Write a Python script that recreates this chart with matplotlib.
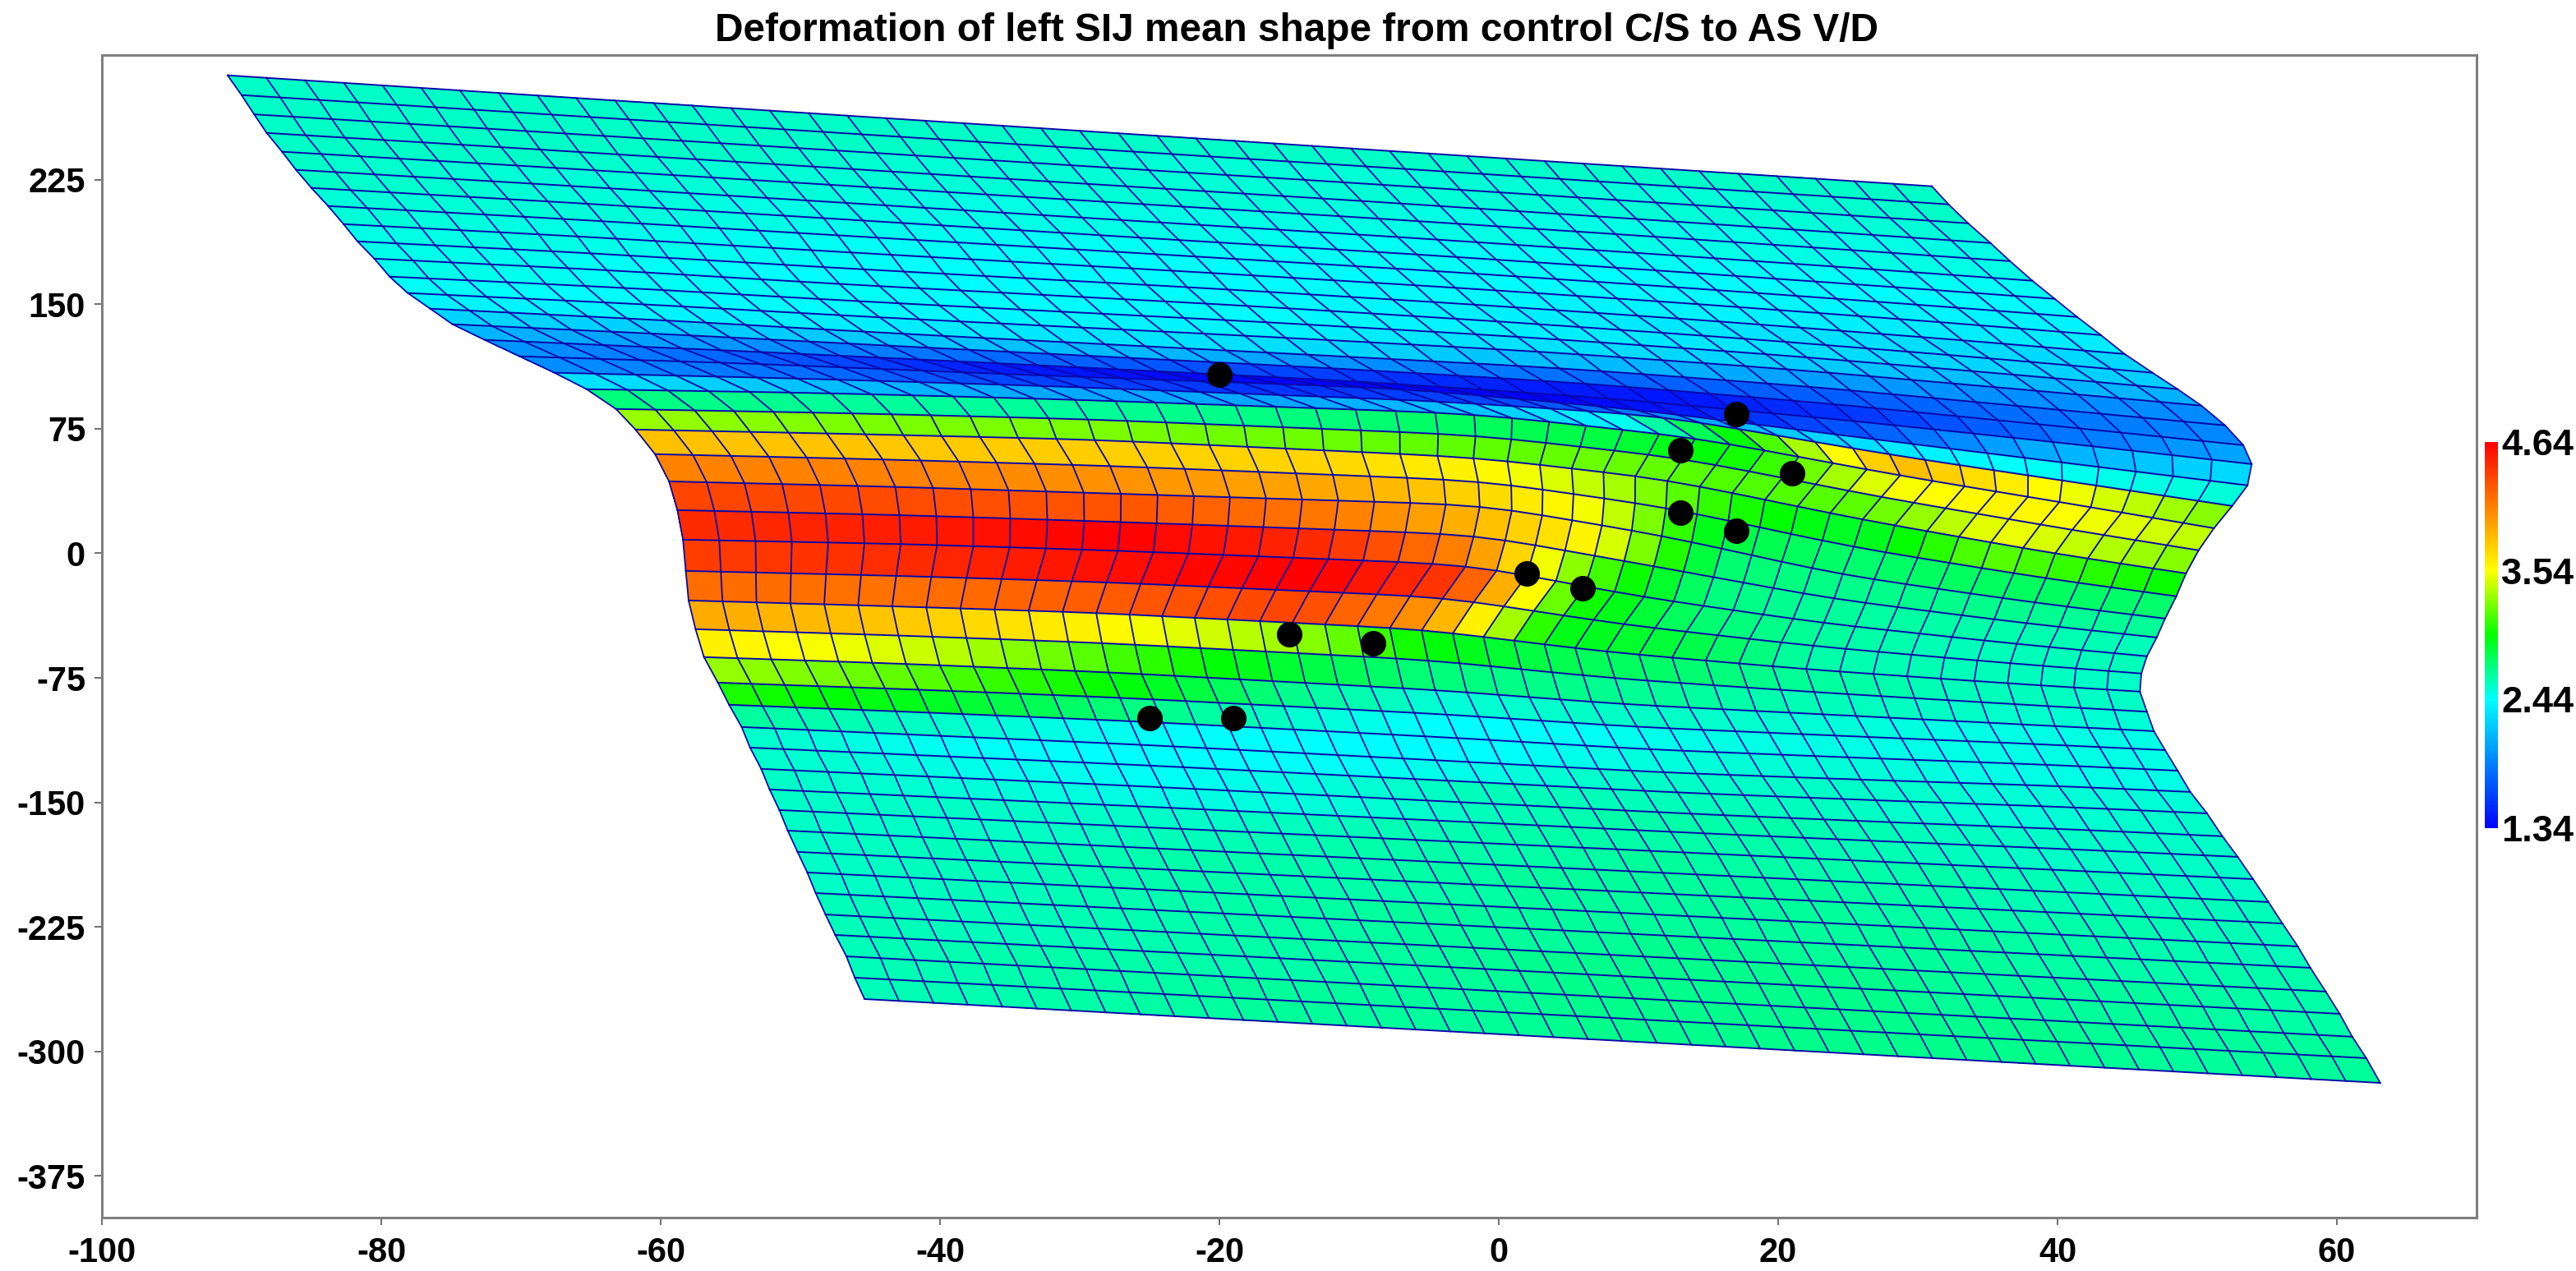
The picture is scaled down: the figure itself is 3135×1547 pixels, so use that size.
import numpy as np
import matplotlib
matplotlib.use("Agg")
import matplotlib.pyplot as plt
from matplotlib.colors import LinearSegmentedColormap

# Mesh outline. The 45x45 vertices inside are
# NOT read one by one: they are built from these edges and the control tables below.
left_x = [-91.0, -90.0, -89.1, -88.2, -87.1, -86.1, -85.0, -83.8, -82.7, -81.7, -80.5, -79.4, -78.1, -76.5, -74.9,
          -72.6, -70.1, -67.6, -65.3, -63.2, -61.8, -60.4, -59.4, -58.8, -58.4, -58.2, -58.0, -57.5, -56.9, -55.9,
          -55.1, -54.2, -53.6, -52.8, -52.2, -51.5, -50.9, -50.2, -49.5, -48.9, -48.2, -47.5, -46.7, -46.1, -45.4]
left_y = [287.8, 275.9, 264.3, 253.1, 241.8, 230.9, 220.0, 209.1, 198.2, 187.8, 177.4, 166.6, 156.7, 147.3, 137.9,
          128.5, 118.6, 108.7, 98.8, 86.9, 74.5, 59.7, 43.3, 26.0, 8.2, -10.6, -28.4, -45.7, -62.5, -77.9,
          -91.2, -104.6, -117.0, -129.8, -142.2, -154.6, -167.0, -179.8, -192.2, -204.6, -217.5, -229.8, -242.7, -255.5, -268.4]
right_x = [31.0, 32.2, 33.6, 35.2, 36.6, 38.2, 39.8, 41.4, 43.1, 44.8, 46.8, 48.6, 50.3, 52.0, 53.3,
           53.9, 53.6, 52.5, 51.2, 50.1, 49.2, 48.5, 47.7, 47.1, 46.4, 46.0, 45.9, 46.4, 46.9, 47.7,
           48.6, 49.5, 50.7, 51.8, 52.9, 54.0, 55.1, 56.1, 57.2, 58.1, 59.2, 60.2, 61.1, 62.1, 63.1]
right_y = [221.0, 210.1, 198.7, 186.8, 175.9, 164.1, 153.2, 142.3, 131.4, 120.0, 108.7, 98.8, 88.9, 77.0, 65.1,
           53.7, 40.9, 28.5, 15.1, 1.8, -12.1, -25.9, -39.3, -50.7, -62.0, -72.4, -83.3, -95.4, -107.1, -118.5,
           -130.9, -143.7, -156.6, -170.4, -182.8, -196.2, -210.0, -222.9, -236.7, -249.6, -263.9, -277.3, -291.1, -304.0, -318.9]

# how far the inner mesh sits from the straight line between both edges
dev_rows = [0, 6, 10, 13, 15, 16, 17, 18, 20, 22, 24, 26, 28, 31, 35, 44]
dev_cols = [0, 6, 12, 22, 28, 34, 40, 44]
dev_x = [
    [0, 0, 0, 0, 0, 0, 0, 0],
    [0, -0.1, -0.2, -0.3, -0.3, -0.2, -0.1, 0],
    [0, -0.7, -1.5, -1.2, -0.6, -0.3, -0.1, 0],
    [0, -0.6, -1.2, -1.5, -0.9, -0.6, -0.2, 0],
    [0, -0.3, -0.6, -0.9, 0, 0.3, 0.1, 0],
    [0, 0.4, 0.9, 1.2, 1.2, 1.5, 0.6, 0],
    [0, 1.0, 2.1, 3.2, 2.9, 2.9, 1.2, 0],
    [0, 1.6, 3.2, 5.4, 5.3, 4.1, 1.8, 0],
    [0, 1.3, 2.6, 4.7, 3.2, 2.1, 0.7, 0],
    [0, 1.6, 3.2, 4.7, 2.9, 1.2, 0.4, 0],
    [0, 1.3, 2.6, 3.8, 2.1, 0.6, 0.2, 0],
    [0, 0.4, 0.9, 0.6, -0.5, -0.3, 0, 0],
    [0, 0.3, 0.7, 0.5, -0.3, -0.1, 0, 0],
    [0, 0.1, 0.3, 0.2, 0, 0, 0, 0],
    [0, 0, 0, 0, 0, 0, 0, 0],
    [0, 0, 0, 0, 0, 0, 0, 0],
]
dev_y = [
    [0, 0, 0, 0, 0, 0, 0, 0],
    [0, 1, 1.5, 2, 2.5, 2, 1, 0],
    [0, 2.5, 3.5, 6, 6, 5, 2.5, 0],
    [0, 2.5, 4, 7.5, 9, 7.5, 3, 0],
    [0, 4, 7.5, 12.5, 12.5, 9, 4, 0],
    [0, 6, 10.5, 19.5, 17.5, 10, 4, 0],
    [0, 7.5, 14, 23, 25, 12.5, 5, 0],
    [0, 9, 16.5, 27, 24, 12.5, 5, 0],
    [0, 9, 17.5, 26.5, 25, 12.5, 4, 0],
    [0, 8, 15, 27, 20, 7.5, 2, 0],
    [0, 7, 12.5, 20, 10, 4, 1, 0],
    [0, 4, 7.5, 10, 4, 1, 0, 0],
    [0, 2, 3, 2.5, 0, 0, 0, 0],
    [0, 0, 0, -1.5, -2.5, -1.5, 0, 0],
    [0, 0, 0, 0, 0, 0, 0, 0],
    [0, 0, 0, 0, 0, 0, 0, 0],
]

# colour of each mesh row at some columns, in percent of the colorbar
color_cols = [0, 6, 12, 18, 22, 26, 30, 34, 38, 44]
color_pct = [
    [37, 37, 37, 37, 37, 37, 37, 37, 37, 37],
    [37, 37, 37, 37, 36, 36, 36, 36, 36, 37],
    [37, 37, 37, 36, 36, 36, 36, 36, 36, 36],
    [37, 37, 36, 36, 36, 36, 35, 35, 35, 35],
    [37, 36, 36, 35, 35, 35, 35, 35, 35, 35],
    [37, 36, 35, 35, 35, 34, 34, 34, 34, 34],
    [36, 36, 35, 34, 34, 34, 34, 33, 33, 33],
    [36, 35, 34, 34, 33, 33, 33, 33, 32, 32],
    [35, 35, 34, 33, 33, 33, 32, 32, 31, 31],
    [35, 34, 33, 33, 33, 32, 31, 30, 29, 28],
    [35, 34, 34, 33, 33, 32, 31, 30, 28, 27],
    [34, 33, 33, 32, 32, 30, 29, 27, 25, 23],
    [32, 32, 31, 30, 29, 26, 24, 21, 19, 18],
    [28, 27, 26, 24, 20, 16, 13, 12, 14, 18],
    [24, 20, 15, 11, 8, 4, 3, 7, 13, 22],
    [20, 13, 4, 1, 0, 0, 4, 12, 22, 29],
    [19, 15, 9, 7, 8, 12, 24, 30, 34, 36],
    [30, 25, 22, 22, 25, 32, 52, 76, 68, 58],
    [42, 40, 40, 42, 44, 46, 52, 66, 68, 62],
    [60, 58, 58, 57, 56, 57, 55, 56, 66, 58],
    [75, 74, 73, 72, 68, 62, 52, 47, 56, 50],
    [83, 83, 81, 78, 72, 65, 46, 43, 44, 43],
    [91, 90, 89, 84, 76, 67, 43, 41, 41, 40],
    [94, 96, 100, 94, 82, 56, 42, 40, 39, 38],
    [92, 94, 98, 100, 92, 52, 43, 40, 38, 38],
    [86, 85, 88, 91, 80, 49, 46, 39, 38, 37],
    [78, 74, 68, 60, 50, 45, 43, 40, 38, 37],
    [69, 64, 55, 46, 42, 41, 40, 38, 37, 36],
    [60, 56, 50, 40, 36, 37, 37, 36, 35, 35],
    [52, 48, 42, 36, 33, 34, 35, 35, 35, 35],
    [40, 37, 34, 33, 33, 35, 36, 36, 35, 35],
    [37, 34, 33, 34, 35, 37, 37, 37, 36, 36],
    [37, 35, 34, 36, 38, 38, 38, 37, 36, 37],
    [37, 36, 35, 36, 38, 39, 39, 38, 37, 37],
    [37, 37, 37, 38, 39, 39, 39, 38, 37, 37],
    [37, 37, 38, 39, 39, 40, 39, 39, 38, 37],
    [37, 38, 39, 39, 40, 40, 40, 39, 38, 38],
    [37, 38, 39, 39, 40, 40, 40, 39, 39, 38],
    [37, 38, 39, 40, 40, 40, 40, 40, 39, 38],
    [38, 38, 39, 40, 40, 41, 40, 40, 39, 39],
    [38, 38, 39, 40, 41, 41, 41, 40, 40, 39],
    [38, 39, 39, 40, 41, 41, 41, 40, 40, 39],
    [38, 39, 40, 40, 41, 41, 41, 41, 40, 40],
    [38, 39, 40, 40, 41, 41, 41, 41, 40, 40],
]

dots_x = [-20, 17, 13, 21, 13, 17, 2, 6, -15, -9, -25, -19]
dots_y = [107.7, 84, 62, 48, 24.5, 13.6, -12, -21, -49, -54, -99, -99]

x_ticks = [-100, -80, -60, -40, -20, 0, 20, 40, 60]
y_ticks = [-375, -300, -225, -150, -75, 0, 75, 150, 225]
cbar_ticks = [1.34, 2.44, 3.54, 4.64]

plt.rcParams['font.family'] = ['Liberation Sans', 'DejaVu Sans']
plt.rcParams['axes.unicode_minus'] = False


def fill_table(table, rows, cols, n_rows, n_cols):
    table = np.array(table, dtype=float)
    along = np.array([np.interp(np.arange(n_cols), cols, r) for r in table])
    full = np.array([np.interp(np.arange(n_rows), rows, along[:, c]) for c in range(n_cols)]).T
    return full


n = 45
t = np.arange(n) / (n - 1.)
DX = fill_table(dev_x, dev_rows, dev_cols, n, n)
DY = fill_table(dev_y, dev_rows, dev_cols, n, n)
# take the corners off the control columns
for k in range(3):
    DX[:, 1:-1] = 0.25 * DX[:, :-2] + 0.5 * DX[:, 1:-1] + 0.25 * DX[:, 2:]
    DY[:, 1:-1] = 0.25 * DY[:, :-2] + 0.5 * DY[:, 1:-1] + 0.25 * DY[:, 2:]

X = np.outer(left_x, 1 - t) + np.outer(right_x, t) + DX
Y = np.outer(left_y, 1 - t) + np.outer(right_y, t) + DY

pct = np.array([np.interp(np.arange(n - 1) + 0.5, color_cols, r) for r in np.array(color_pct, dtype=float)])
C = 1.34 + (4.64 - 1.34) * pct / 100.

cmap = LinearSegmentedColormap.from_list("bar", [(0, "#0000ff"), (1 / 3., "#00ffff"), (0.5, "#00ff00"), (2 / 3., "#ffff00"), (1, "#ff0000")], N=512)

W, H = 3135, 1547
fig = plt.figure(figsize=(W / 200., H / 200.), dpi=200)
ax = fig.add_axes([124. / W, 1 - 1482. / H, (3014. - 124.) / W, (1482. - 67.) / H])

mesh = ax.pcolormesh(X, Y, C, cmap=cmap, vmin=1.34, vmax=4.64, shading='flat')
ax.plot(X, Y, color='#0808a8', lw=0.65)
ax.plot(X.T, Y.T, color='#0808a8', lw=0.7)
ax.scatter(dots_x, dots_y, s=125, c='k', zorder=5, linewidths=0)

ax.set_xlim(-100, 70)
ax.set_ylim(-400, 300)
ax.set_xticks(x_ticks)
ax.set_yticks(y_ticks)
ax.tick_params(length=3.2, width=0.6, color='#555555', labelsize=15, pad=4)
ax.tick_params(axis='x', pad=5)
for lab in ax.get_xticklabels() + ax.get_yticklabels():
    lab.set_fontweight('bold')
for s in ax.spines.values():
    s.set_color('#7f7f7f')
    s.set_linewidth(1.1)
ax.set_title("Deformation of left SIJ mean shape from control C/S to AS V/D", fontsize=17.2, fontweight='bold', pad=6, x=0.503)

cax = fig.add_axes([3024. / W, 1 - 1008. / H, 16. / W, 470. / H])
cb = fig.colorbar(mesh, cax=cax, ticks=cbar_ticks)
cb.outline.set_visible(False)
# the reference cuts these labels off at the edge of the picture, here they stay whole
cb.ax.tick_params(length=0, labelsize=16.3, pad=1.5)
cb.ax.set_yticklabels(["%.2f" % v for v in cbar_ticks], fontweight='bold')

fig.savefig("out.png", dpi=200)
